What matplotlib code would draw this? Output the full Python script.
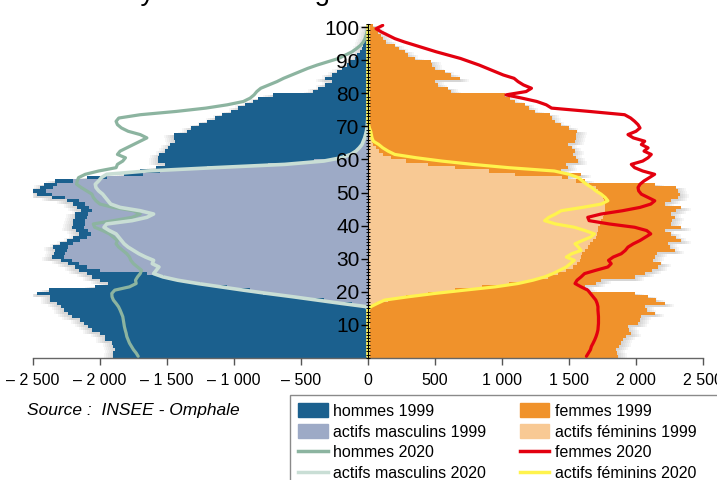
import matplotlib
matplotlib.use("Agg")
import matplotlib.pyplot as plt
from matplotlib.patches import Patch, Rectangle
from matplotlib.lines import Line2D
from matplotlib.ticker import MultipleLocator
import numpy as np

plt.rcParams['font.family'] = ['Liberation Sans', 'DejaVu Sans']

# ages 0 .. 100
ages = list(range(101))

hommes_1999 = [1900, 1900, 1890, 1900, 1910, 1960, 1960, 2000, 2060, 2090,
               2120, 2150, 2210, 2240, 2270, 2290, 2320, 2370, 2370, 2470,
               2380, 2040, 1940, 2000, 2060, 2100, 2160, 2190, 2240, 2290,
               2360, 2340, 2335, 2350, 2300, 2250, 2200, 2160, 2180, 2210,
               2205, 2200, 2190, 2185, 2140, 2170, 2200, 2250, 2360, 2470,
               2510, 2450, 2420, 2335, 2100, 1820, 1700, 1580, 1515, 1565,
               1565, 1560, 1515, 1490, 1475, 1440, 1445, 1450, 1350, 1320,
               1260, 1200, 1140, 1090, 1020, 970, 920, 860, 820, 710,
               410, 375, 320, 270, 320, 270, 230, 195, 160, 135,
               100, 80, 60, 48, 40, 30, 20, 14, 9, 6, 3]

actifs_masc_1999 = [0, 0, 0, 0, 0, 0, 0, 0, 0, 0,
                    0, 0, 0, 0, 0, 15, 120, 330, 560, 780,
                    880, 1050, 1250, 1420, 1520, 1650, 2000, 2100, 2160, 2210,
                    2270, 2260, 2250, 2240, 2200, 2150, 2100, 2070, 2090, 2120,
                    2110, 2110, 2100, 2090, 2060, 2080, 2110, 2160, 2260, 2360,
                    2400, 2350, 2320, 2200, 1950, 1680, 1550, 1200, 750, 400,
                    220, 130, 90, 60, 40, 28, 20, 14, 10, 7,
                    5, 0, 0, 0, 0, 0, 0, 0, 0, 0,
                    0, 0, 0, 0, 0, 0, 0, 0, 0, 0,
                    0, 0, 0, 0, 0, 0, 0, 0, 0, 0, 0]

hommes_2020 = [1715, 1730, 1750, 1765, 1780, 1790, 1800, 1805, 1812, 1818,
               1822, 1826, 1830, 1840, 1850, 1862, 1880, 1900, 1910, 1912,
               1890, 1780, 1730, 1735, 1720, 1700, 1690, 1720, 1750, 1770,
               1780, 1800, 1830, 1860, 1880, 1870, 1900, 1930, 1980, 2040,
               2050, 1900, 1760, 1700, 1750, 1900, 2000, 2030, 2050, 2060,
               2100, 2140, 2175, 2170, 2160, 2110, 2010, 1880, 1870, 1830,
               1810, 1870, 1850, 1800, 1750, 1700, 1650, 1700, 1790, 1840,
               1870, 1880, 1860, 1700, 1430, 1210, 1050, 930, 880, 850,
               830, 800, 740, 680, 630, 570, 510, 450, 380, 300,
               220, 170, 120, 85, 55, 35, 22, 14, 8, 4, 2]

actifs_masc_2020 = [0, 0, 0, 0, 0, 0, 0, 0, 0, 0,
                    0, 0, 0, 0, 0, 10, 200, 380, 560, 750,
                    930, 1100, 1270, 1420, 1530, 1600, 1580, 1560, 1610, 1600,
                    1660, 1710, 1750, 1790, 1820, 1840, 1860, 1880, 1930, 1970,
                    1950, 1760, 1650, 1600, 1700, 1850, 1920, 1940, 1960, 1980,
                    2010, 2030, 2035, 2010, 1990, 1950, 1650, 1150, 620, 330,
                    200, 130, 90, 65, 45, 35, 25, 18, 12, 8,
                    5, 3, 2, 1, 0, 0, 0, 0, 0, 0,
                    0, 0, 0, 0, 0, 0, 0, 0, 0, 0,
                    0, 0, 0, 0, 0, 0, 0, 0, 0, 0, 0]

femmes_1999 = [1865, 1860, 1850, 1870, 1890, 1900, 1925, 1965, 1950, 1940,
               2015, 2030, 2040, 2140, 2080, 2065, 2213, 2150, 2090, 1990,
               1640, 1620, 1700, 1740, 1990, 2065, 2120, 2163, 2188, 2127,
               2140, 2160, 2288, 2250, 2238, 2337, 2300, 2263, 2213, 2337,
               2263, 2270, 2288, 2263, 2300, 2337, 2213, 2260, 2312, 2325,
               2310, 2300, 2140, 1616, 1492, 1592, 1442, 1492, 1480, 1567,
               1550, 1530, 1542, 1520, 1492, 1542, 1550, 1554, 1562, 1500,
               1442, 1393, 1370, 1356, 1243, 1200, 1169, 1094, 1060, 1020,
               622, 600, 522, 497, 684, 620, 572, 497, 480, 473,
               348, 300, 274, 230, 199, 137, 110, 100, 75, 50, 37]

actifs_fem_1999 = [0, 0, 0, 0, 0, 0, 0, 0, 0, 0,
                   0, 0, 0, 0, 0, 10, 60, 150, 280, 450,
                   650, 850, 1050, 1220, 1340, 1420, 1480, 1530, 1560, 1580,
                   1590, 1600, 1620, 1640, 1660, 1680, 1700, 1710, 1720, 1720,
                   1730, 1740, 1750, 1760, 1770, 1770, 1770, 1760, 1750, 1740,
                   1720, 1700, 1650, 1550, 1450, 1100, 900, 650, 450, 280,
                   170, 110, 80, 60, 40, 30, 20, 14, 10, 6,
                   4, 0, 0, 0, 0, 0, 0, 0, 0, 0,
                   0, 0, 0, 0, 0, 0, 0, 0, 0, 0,
                   0, 0, 0, 0, 0, 0, 0, 0, 0, 0, 0]

femmes_2020 = [1630, 1645, 1660, 1667, 1680, 1692, 1702, 1710, 1716, 1718,
               1720, 1720, 1720, 1718, 1716, 1716, 1710, 1700, 1680, 1660,
               1640, 1590, 1545, 1560, 1590, 1616, 1700, 1790, 1815, 1795,
               1830, 1890, 1920, 1940, 1980, 2030, 2070, 2110, 2080, 1990,
               1800, 1650, 1640, 1740, 1900, 2030, 2110, 2140, 2090, 2040,
               2020, 2015, 2030, 2060, 2100, 2139, 2050, 1990, 1965, 2050,
               2090, 2114, 2060, 2090, 2040, 2065, 1980, 1940, 2000, 2030,
               2015, 1990, 1960, 1915, 1650, 1370, 1330, 1260, 1150, 1030,
               1180, 1220, 1160, 1120, 1090, 1010, 950, 890, 830, 760,
               690, 600, 510, 430, 350, 270, 200, 150, 100, 60, 110]

actifs_fem_2020 = [0, 0, 0, 0, 0, 0, 0, 0, 0, 0,
                   0, 0, 0, 0, 0, 20, 70, 124, 300, 497,
                   720, 950, 1119, 1230, 1318, 1380, 1430, 1480, 1510, 1540,
                   1480, 1520, 1590, 1570, 1545, 1600, 1660, 1690, 1620, 1540,
                   1400, 1318, 1350, 1400, 1442, 1600, 1740, 1790, 1770, 1740,
                   1700, 1670, 1630, 1600, 1570, 1500, 1390, 1050, 780, 550,
                   360, 200, 150, 110, 80, 40, 30, 25, 20, 10,
                   5, 0, 0, 0, 0, 0, 0, 0, 0, 0,
                   0, 0, 0, 0, 0, 0, 0, 0, 0, 0,
                   0, 0, 0, 0, 0, 0, 0, 0, 0, 0, 0]

x_ticks = [-2500, -2000, -1500, -1000, -500, 0, 500, 1000, 1500, 2000, 2500]
x_labels = ['\u2013 2 500', '\u2013 2 000', '\u2013 1 500', '\u2013 1 000', '\u2013 500',
            '0', '500', '1 000', '1 500', '2 000', '2 500']
y_ticks = [10, 20, 30, 40, 50, 60, 70, 80, 90, 100]

C_H99 = '#1b608e'
C_AM99 = '#9daac6'
C_H20 = '#8cb4a0'
C_AM20 = '#c9ded5'
C_F99 = '#f0922b'
C_AF99 = '#f8c994'
C_F20 = '#e3000f'
C_AF20 = '#fff34d'


def shadow(ax, values, sign):
    # soft grey halo on the outer side of the bars
    vals = np.array(values, dtype=float)
    for d in [10, 25, 40, 55, 70]:
        ax.barh(np.array(ages) - 0.6, sign * (vals + d), height=1.0, align='edge',
                color='#808080', alpha=0.07, linewidth=0, zorder=0.5)


fig = plt.figure(figsize=(7.17, 4.8), dpi=100)
ax = fig.add_axes([33 / 717, 1 - 358 / 480, 670 / 717, (358 - 23.7) / 480])

shadow(ax, hommes_1999, -1)
shadow(ax, femmes_1999, 1)

ax.barh(ages, [-v for v in hommes_1999], height=1.0, align='edge', color=C_H99, linewidth=0, zorder=1)
ax.barh(ages, [-v for v in actifs_masc_1999], height=1.0, align='edge', color=C_AM99, linewidth=0, zorder=1.1)
ax.barh(ages, femmes_1999, height=1.0, align='edge', color=C_F99, linewidth=0, zorder=1)
ax.barh(ages, actifs_fem_1999, height=1.0, align='edge', color=C_AF99, linewidth=0, zorder=1.1)

yc = np.array(ages) + 0.5
ax.plot([-v for v in hommes_2020], yc, color=C_H20, lw=2.3, zorder=2, solid_capstyle='round')
ax.plot([-v for v in actifs_masc_2020], yc, color=C_AM20, lw=2.6, zorder=2.1, solid_capstyle='round')
ax.plot(femmes_2020, yc, color=C_F20, lw=2.3, zorder=2, solid_capstyle='round')
ax.plot(actifs_fem_2020, yc, color=C_AF20, lw=2.3, zorder=2.1, solid_capstyle='round')

ax.set_xlim(-2500, 2500)
ax.set_ylim(0, 101)

for s in ['top', 'right']:
    ax.spines[s].set_visible(False)
ax.spines['left'].set_position(('data', 0))
ax.spines['left'].set_linewidth(0.8)
ax.spines['left'].set_zorder(3)
ax.spines['bottom'].set_color('#666666')
ax.spines['bottom'].set_linewidth(1.0)

ax.set_xticks(x_ticks)
ax.set_xticklabels(x_labels, fontsize=11.5)
ax.tick_params(axis='x', length=5, width=1, color='#555555', pad=6)

ax.set_yticks(y_ticks)
ax.set_yticklabels([str(t) for t in y_ticks], fontsize=15)
ax.yaxis.set_minor_locator(MultipleLocator(1))
ax.tick_params(axis='y', which='major', length=5, width=1, direction='out', pad=1)
ax.tick_params(axis='y', which='minor', length=3, width=0.7, direction='inout')
ax.set_axisbelow(False)

# title, cut by the top edge as in the source picture
fig.text(122 / 717, 1.0, 'Pyramide des âges', fontsize=20, ha='left', va='baseline')

fig.text(27 / 717, 1 - 410 / 480, 'Source :  INSEE - Omphale', fontsize=12.5,
         style='italic', ha='left', va='center')

# legend frame, running off the picture
fig.patches.append(Rectangle((290 / 717, -0.1), 0.8, 0.1 + (1 - 395 / 480),
                             transform=fig.transFigure, facecolor='white',
                             edgecolor='#8a8a8a', linewidth=1.0, zorder=0))

handles = [Patch(color=C_H99), Patch(color=C_AM99),
           Line2D([], [], color=C_H20, lw=2.5), Line2D([], [], color=C_AM20, lw=2.5),
           Patch(color=C_F99), Patch(color=C_AF99),
           Line2D([], [], color=C_F20, lw=2.5), Line2D([], [], color=C_AF20, lw=2.5)]
labels = ['hommes 1999', 'actifs masculins 1999', 'hommes 2020', 'actifs masculins 2020',
          'femmes 1999', 'actifs féminins 1999', 'femmes 2020', 'actifs féminins 2020']
fig.legend(handles, labels, ncol=2, loc='upper left',
           bbox_to_anchor=(298 / 717, 1 - 403 / 480), bbox_transform=fig.transFigure,
           frameon=False, fontsize=11.5, handlelength=1.85, handleheight=1.0,
           handletextpad=0.35, labelspacing=0.33, columnspacing=2.1, borderpad=0,
           borderaxespad=0)

fig.savefig('out.png', dpi=100)
